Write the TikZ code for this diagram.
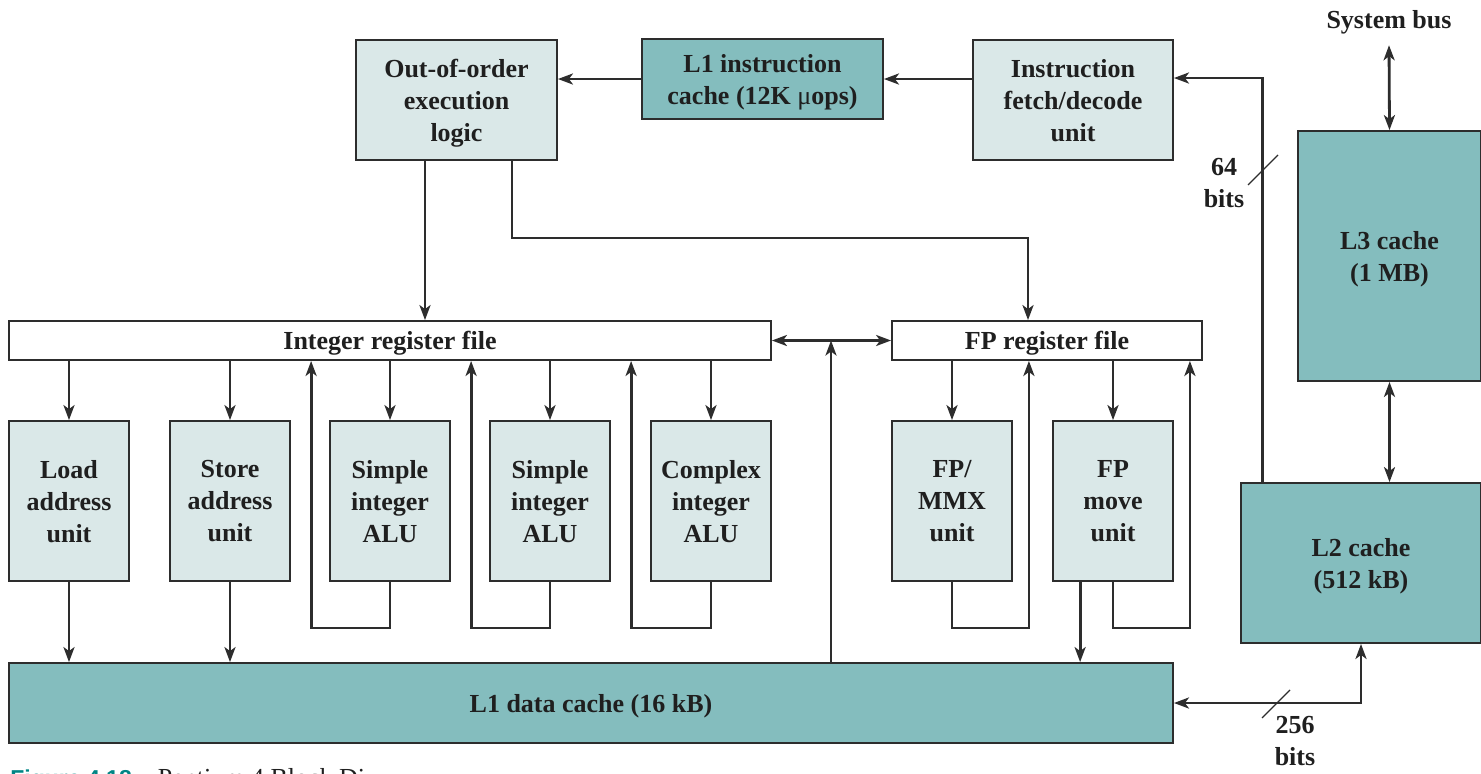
\documentclass[tikz,border=0pt]{standalone}
\usepackage{fontspec}
\setmainfont{Liberation Serif}
\setsansfont{Liberation Sans}
\usetikzlibrary{positioning,arrows.meta,calc}
\definecolor{pale}{RGB}{218,232,232}
\definecolor{cache}{RGB}{132,189,190}
\definecolor{edge}{RGB}{45,45,45}
\definecolor{capteal}{RGB}{0,133,133}

\begin{document}
\begin{tikzpicture}[x=0.5pt,y=-0.5pt,line width=1.4pt,draw=edge,
  >={Stealth[length=7.5pt,width=5.5pt,inset=2pt]},
  every node/.style={font=\fontsize{13}{16}\selectfont\bfseries,align=center,inner sep=0pt,text=black!88},
  blk/.style={draw=edge,line width=0.9pt,text depth=0pt},
  light/.style={blk,fill=pale},
  dark/.style={blk,fill=cache},
  unit/.style={light,minimum width=60pt,minimum height=80pt},
  regf/.style={blk,fill=white,minimum height=19.5pt}]
  \useasboundingbox (0,0) rectangle (1481,773);
  \node[light,minimum width=100.5pt,minimum height=60pt] (ooo) at (456.5,100) {Out-of-order\\execution\\logic};
  \node[dark,minimum width=120.5pt,minimum height=40pt] (l1i) at (762.5,79) {L1 instruction\\cache (12K {\mdseries μ}ops)};
  \node[light,minimum width=100pt,minimum height=60pt] (ifd) at (1073,100) {Instruction\\fetch/decode\\unit};
  \node[dark,minimum width=91.5pt,minimum height=125pt] (l3) at (1389.5,256) {L3 cache\\(1 MB)};
  \node[dark,minimum width=120pt,minimum height=80pt] (l2) at (1361,563) {L2 cache\\(512 kB)};
  \node (sysbus) at (1389,22) {System bus};
  \node[regf,minimum width=381pt] (intreg) at (390,340.5) {Integer register file};
  \node[regf,minimum width=155pt] (fpreg) at (1047,340.5) {FP register file};
  \node[unit] (lau) at (69,501) {Load\\address\\unit};
  \node[unit] (sau) at (230,501) {Store\\address\\unit};
  \node[unit] (alua) at (390,501) {Simple\\integer\\ALU};
  \node[unit] (alub) at (550,501) {Simple\\integer\\ALU};
  \node[unit] (aluc) at (711,501) {Complex\\integer\\ALU};
  \node[unit] (fpmmx) at (952,501) {FP/\\MMX\\unit};
  \node[unit] (fpmov) at (1113,501) {FP\\move\\unit};
  \node[dark,minimum width=582pt,minimum height=40pt] (l1d) at (591,703) {L1 data cache (16 kB)};
  \node (w64) at (1224,183) {64\\bits};
  \node (w256) at (1295,741) {256\\bits};
  \node[anchor=base west,font=\fontsize{13}{16}\selectfont] (cap) at (9,786) {{\sffamily\bfseries\fontsize{11.5}{14}\selectfont\color{capteal}Figure 4.18}\quad Pentium 4 Block Di};
  \draw[->] (l1i.west) -- (l1i.west -| ooo.east);
  \draw[->] (ifd.west |- l1i.west) -- (l1i.east);
  \draw[->] ($(l2.north west)+(22,0)$) |- ($(ifd.east)+(0,-22)$);
  \draw[line width=0.6pt] (1248,185) -- (1278,155);
  \draw[<->] ([yshift=-5pt]sysbus.south) -- (l3.north);
  \draw[<->] (l3.south) -- (l3.south |- l2.north);
  \draw[<->] (l1d.east) -| (l2.south);
  \draw[line width=0.6pt] (1262,718) -- (1290,690);
  \coordinate (oa) at ($(ooo.south)+(-31.5,0)$);
  \coordinate (ob) at ($(ooo.south)+(55.5,0)$);
  \draw[->] (oa) -- (oa |- intreg.north);
  \draw[->] (ob) -- ++(0,77) -| ($(fpreg.north)+(-19,0)$);
  \draw[<->] (intreg.east) -- (fpreg.west);
  \coordinate (tap) at (831,340.5);
  \draw[->] (l1d.north -| tap) -- (tap);
  \foreach \u in {lau,sau,alua,alub,aluc} \draw[->] (\u.north |- intreg.south) -- (\u.north);
  \foreach \u in {fpmmx,fpmov} \draw[->] (\u.north |- fpreg.south) -- (\u.north);
  \foreach \u in {lau,sau} \draw[->] (\u.south) -- (\u.south |- l1d.north);
  \foreach \u/\s in {alua/-18,alub/-18,aluc/-19} \draw[->] (\u.south) -- ++(0,46) -| ($(\u.west |- intreg.south)+(\s,0)$);
  \foreach \u in {fpmmx,fpmov} \draw[->] (\u.south) -- ++(0,46) -| ($(\u.east |- fpreg.south)+(16,0)$);
  \coordinate (fm) at ($(fpmov.south west)+(28,0)$);
  \draw[->] (fm) -- (fm |- l1d.north);
\end{tikzpicture}
\end{document}
